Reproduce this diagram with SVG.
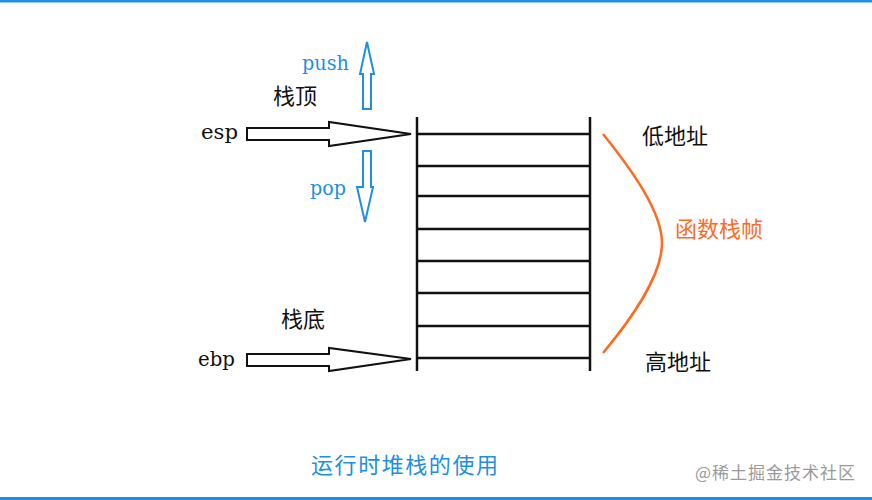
<svg xmlns="http://www.w3.org/2000/svg" width="872" height="500" viewBox="0 0 872 500">
<style>
.cn{font-family:"Noto Sans CJK SC","Noto Sans",sans-serif;fill:#111}
.en{font-family:"DejaVu Serif","Liberation Serif",serif;fill:#111}
.blue{fill:#1E8FE3}
.orange{fill:#FF6A1F}
.stk{stroke:#111;stroke-width:2.5;fill:none}
.bigarrow{fill:#fff;stroke:#111;stroke-width:2}
.smallarrow{fill:#fff;stroke:#1E8FE3;stroke-width:2}
</style>
<rect x="0" y="0" width="872" height="500" fill="#fff"/>
<rect x="0" y="0" width="872" height="2.5" fill="#1E8FE3"/>
<rect x="0" y="497" width="872" height="3" fill="#1E8FE3"/>

<g id="stack">
  <line class="stk" x1="417" y1="117" x2="417" y2="371"/>
  <line class="stk" x1="590" y1="117" x2="590" y2="371"/>
  <line class="stk" x1="417" y1="134" x2="590" y2="134"/>
  <line class="stk" x1="417" y1="166" x2="590" y2="166"/>
  <line class="stk" x1="417" y1="196" x2="590" y2="196"/>
  <line class="stk" x1="417" y1="229" x2="590" y2="229"/>
  <line class="stk" x1="417" y1="261" x2="590" y2="261"/>
  <line class="stk" x1="417" y1="293" x2="590" y2="293"/>
  <line class="stk" x1="417" y1="326" x2="590" y2="326"/>
  <line class="stk" x1="417" y1="358" x2="590" y2="358"/>
</g>

<g id="connectors">
  <polygon class="bigarrow" points="247,128 329,128 329,122 411,134 329,146 329,140 247,140"/>
  <polygon class="bigarrow" points="247,354 329,354 329,348 411,359 329,371 329,366 247,366"/>
  <polygon class="smallarrow" points="367,42 374,74 371,74 371,109 363,109 363,74 360,74"/>
  <polygon class="smallarrow" points="363,151 371,151 371,187 373,187 365,222 357,187 363,187"/>
  <path d="M603,134 C632,170 662,212 662,243 C662,276 632,318 603,353" fill="none" stroke="#FF6A1F" stroke-width="2.5"/>
</g>

<g id="label-push"><text class="en blue" x="302" y="70" font-size="21" textLength="47" lengthAdjust="spacingAndGlyphs">push</text></g>
<g id="label-pop"><text class="en blue" x="310" y="195" font-size="21" textLength="36" lengthAdjust="spacingAndGlyphs">pop</text></g>
<g id="label-esp"><text class="en" x="201" y="139" font-size="21" textLength="37" lengthAdjust="spacingAndGlyphs">esp</text></g>
<g id="label-ebp"><text class="en" x="198" y="366" font-size="21" textLength="37" lengthAdjust="spacingAndGlyphs">ebp</text></g>
<g id="label-top"><text class="cn" x="273" y="104" font-size="22">栈顶</text></g>
<g id="label-bottom"><text class="cn" x="281" y="327" font-size="22">栈底</text></g>
<g id="label-low"><text class="cn" x="642" y="144" font-size="22">低地址</text></g>
<g id="label-high"><text class="cn" x="645" y="370" font-size="22">高地址</text></g>
<g id="label-frame"><text class="cn orange" x="675" y="237" font-size="22">函数栈帧</text></g>
<g id="caption"><text class="cn blue" x="311" y="473" font-size="22" textLength="187">运行时堆栈的使用</text></g>
<g id="watermark"><text x="695" y="479" font-size="17" fill="#9a9a9a" font-family="'Noto Sans CJK SC','Noto Sans',sans-serif" textLength="160">@稀土掘金技术社区</text></g>
</svg>
